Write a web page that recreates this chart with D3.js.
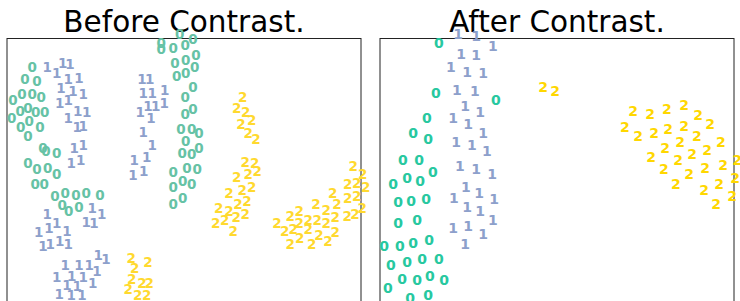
<!DOCTYPE html>
<html>
<head>
<meta charset="UTF-8">
<title>Before / After Contrast</title>
<script src="https://cdn.jsdelivr.net/npm/d3@7"></script>
<style>
  body { margin: 0; background: #fff; }
  svg { display: block; font-family: "DejaVu Sans", sans-serif; }
</style>
</head>
<body>
<svg id="chart" width="740" height="301"></svg>
<script>
// embedding coordinates, one array per digit class
const before0 = [
  [4.2,54.2],[3.0,52.3],[5.0,52.0],[1.0,48.7],[2.5,49.8],[4.2,49.8],[5.7,49.3],
  [2.2,47.0],[3.5,47.5],[4.8,46.8],[6.3,46.8],[0.8,45.7],[3.7,45.3],[2.3,44.2],
  [5.5,44.2],[3.5,42.8],[6.0,40.7],[6.5,40.3],[8.3,40.0],[3.5,38.2],[5.0,37.3],
  [6.8,37.5],[8.3,36.5],[4.7,34.8],[6.2,34.8],[8.0,32.8],[9.7,33.3],[11.5,33.0],
  [13.2,33.2],[15.5,33.0],[9.2,31.3],[10.3,30.2],[12.0,31.0],
  [25.7,58.2],[25.7,57.2],[27.7,57.5],[29.7,58.0],[28.8,59.7],[31.0,59.0],
  [28.0,55.0],[29.8,55.5],[31.5,56.3],[28.3,52.7],[29.8,53.3],[31.3,54.2],
  [29.7,49.3],[31.0,51.0],[29.7,46.5],[31.0,47.3],[29.0,44.0],[30.8,44.0],
  [32.0,43.2],[29.8,42.0],[29.2,40.0],[30.8,39.8],[32.0,40.8],[27.7,36.7],
  [30.0,37.5],[31.7,37.3],[27.7,34.2],[29.3,35.3],[30.8,34.8],[27.7,31.5],[29.3,32.5]
];
const before1 = [
  [6.7,54.2],[9.3,55.0],[10.5,54.8],[8.3,53.2],[10.2,52.3],[12.0,52.5],[9.0,50.8],
  [11.0,50.3],[12.7,49.8],[8.8,48.3],[10.2,48.7],[11.8,47.0],[13.3,46.7],[10.2,45.7],
  [11.7,44.2],[12.7,44.5],[11.2,40.8],[12.7,41.3],[10.7,38.3],[12.3,38.8],
  [6.7,29.8],[5.3,26.7],[7.0,27.5],[8.3,28.3],[10.0,27.0],[6.0,24.5],[7.2,24.8],
  [8.8,25.2],[10.2,24.7],[14.2,30.7],[15.8,29.8],[13.2,28.5],[14.5,28.3],
  [15.2,23.0],[16.5,22.2],[9.7,21.2],[12.0,21.2],[13.7,21.2],[15.0,20.3],[8.3,19.3],
  [10.8,19.5],[12.7,19.2],[10.0,18.0],[11.7,17.7],[14.3,18.2],[8.7,16.5],[10.7,16.2],[12.5,16.2],
  [22.5,52.3],[23.8,52.2],[22.7,50.0],[24.2,50.0],[26.3,50.5],[22.2,46.8],[23.5,47.8],
  [24.8,47.7],[26.2,48.2],[24.0,45.8],[22.7,43.5],[24.2,41.3],[21.2,38.8],[23.3,39.2],
  [21.0,36.2],[22.8,37.0]
];
const before2 = [
  [39.3,49.2],[38.3,47.5],[39.8,46.8],[40.8,45.5],[39.0,44.8],[40.2,43.3],[41.5,42.2],
  [39.7,38.5],[41.3,38.3],[38.3,36.0],[40.2,36.5],[41.7,37.0],[37.0,33.2],[39.2,33.7],
  [40.8,34.2],[35.3,30.7],[37.0,30.3],[38.5,31.5],[40.0,32.0],[34.8,28.2],[36.3,28.7],
  [38.2,29.2],[39.7,29.8],[37.7,27.0],
  [57.7,37.8],[59.3,36.5],[56.8,34.8],[58.3,35.0],[54.3,33.2],[56.8,32.5],[58.3,32.8],
  [56.7,29.5],[58.0,29.8],[59.2,30.8],[59.8,34.2],[47.2,29.5],[48.7,30.3],[51.5,31.5],
  [53.2,30.5],[55.0,31.5],[45.0,28.2],[46.3,27.0],[47.7,27.3],[48.7,28.3],[50.2,28.7],
  [51.7,28.7],[53.2,28.3],[54.7,29.2],[47.2,24.8],[48.8,25.7],[50.8,24.8],[52.0,26.2],
  [53.5,25.3],[54.7,26.7],[50.2,27.3],
  [20.7,22.5],[23.5,21.7],[21.3,20.7],[20.8,19.0],[22.5,18.2],[23.7,18.2],[20.2,17.2],
  [21.8,16.2],[23.3,16.2]
];
const after0 = [
  [9.8,58.2],[9.3,50.0],[19.3,48.7],[7.8,45.7],[5.5,43.2],[8.0,42.2],[3.8,38.7],
  [6.5,38.8],[8.8,36.7],[2.2,34.8],[4.5,35.8],[6.7,35.2],[3.0,31.8],[5.2,32.0],
  [7.7,32.3],[3.0,28.2],[6.2,28.7],[0.7,24.5],[3.3,24.5],[5.5,25.0],[8.2,25.5],
  [1.8,21.3],[4.5,21.8],[7.0,22.2],[9.8,22.3],[1.3,17.5],[3.7,19.0],[6.2,18.8],
  [8.3,19.5],[10.7,18.8],[5.0,15.8],[8.0,16.2]
];
const after1 = [
  [13.0,59.7],[16.0,59.5],[18.8,57.8],[13.5,56.5],[16.0,56.2],[11.8,54.2],[14.5,53.5],
  [17.2,53.2],[12.8,50.5],[15.8,50.3],[14.2,47.7],[16.7,46.7],[12.2,45.8],[14.7,44.8],
  [17.2,43.2],[12.7,41.7],[15.3,41.2],[17.8,40.2],[13.3,37.8],[16.0,37.2],[18.7,36.5],
  [14.3,34.2],[16.5,33.3],[12.3,32.5],[14.5,31.0],[16.7,30.2],[19.0,32.2],[12.2,27.5],
  [14.7,27.8],[17.2,26.5],[18.8,28.8],[14.2,24.7]
];
const after2 = [
  [27.2,51.0],[29.2,50.2],[42.2,47.0],[45.0,46.5],[47.8,47.2],[50.7,48.0],[53.0,46.3],
  [40.8,44.3],[43.0,42.8],[45.7,43.2],[48.0,44.0],[50.7,44.5],[52.8,42.7],[55.0,44.7],
  [47.5,40.8],[50.0,41.7],[52.0,39.8],[54.5,40.5],[56.8,41.8],[45.2,39.3],[49.7,38.8],
  [47.3,37.3],[51.5,36.5],[54.2,37.5],[57.2,38.0],[59.5,38.8],[49.3,34.8],[54.0,33.8],
  [56.5,34.8],[59.2,35.7],[56.0,31.5],[58.7,32.7]
];

const classLabels = ["0", "1", "2"];
const beforeColors = ["#66c2a5", "#8da0cb", "#ffd92f"];
const afterColors = ["#27c89f", "#8da0cb", "#ffd700"];
const titles = ["Before Contrast.", "After Contrast."];

const svg = d3.select("#chart");
const panelSize = 354;
const panelTop = 38.5;

const panels = [
  { left: 7, title: titles[0], groups: [before0, before1, before2], colors: beforeColors, fontSize: 13.5 },
  { left: 380, title: titles[1], groups: [after0, after1, after2], colors: afterColors, fontSize: 14 }
];

panels.forEach(p => {
  const x = d3.scaleLinear().domain([0, 59]).range([p.left, p.left + panelSize]);
  const y = d3.scaleLinear().domain([0, 59]).range([panelTop + panelSize, panelTop]);

  svg.append("rect")
    .attr("x", p.left)
    .attr("y", panelTop)
    .attr("width", panelSize)
    .attr("height", panelSize)
    .attr("fill", "none")
    .attr("stroke", "#222")
    .attr("stroke-width", 1);

  svg.append("text")
    .attr("x", p.left + panelSize / 2)
    .attr("y", 32)
    .attr("text-anchor", "middle")
    .style("font-size", "29.5px")
    .attr("fill", "#000")
    .text(p.title);

  p.groups.forEach((pts, k) => {
    svg.append("g")
      .selectAll("text")
      .data(pts)
      .join("text")
      .attr("x", d => x(d[0]))
      .attr("y", d => y(d[1]))
      .attr("text-anchor", "middle")
      .attr("dominant-baseline", "central")
      .style("font-size", p.fontSize + "px")
      .style("font-weight", "bold")
      .attr("fill", p.colors[k])
      .text(classLabels[k]);
  });
});
</script>
</body>
</html>
